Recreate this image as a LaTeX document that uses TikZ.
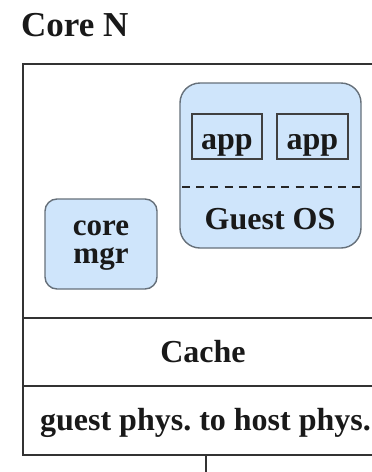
\documentclass[tikz,border=0pt]{standalone}
\usepackage{fontspec}
\setmainfont{Liberation Serif}
\frenchspacing
\definecolor{boxfill}{HTML}{CFE5FB}
\definecolor{boxline}{HTML}{66707A}
\definecolor{frameline}{HTML}{333333}
\begin{document}
\begin{tikzpicture}[x=1pt,y=-1pt,
  lbl/.style={font=\bfseries\fontsize{32}{28}\selectfont, text=black!90, inner sep=0pt},
  frame/.style={draw=frameline, line width=1.8pt},
  guestbox/.style={draw=boxline, fill=boxfill, line width=1.4pt, rounded corners=20pt},
  mgrbox/.style={draw=boxline, fill=boxfill, line width=1.4pt, rounded corners=12pt},
  appbox/.style={draw=black!75, line width=1.3pt}]
\useasboundingbox (0,0) rectangle (372,472);
\clip (0,0) rectangle (372,472);

% title
\node[lbl, anchor=base west, font=\bfseries\fontsize{35}{40}\selectfont] (title) at (21,36) {Core N};

% core frame with its layers
\draw[frame] (400,64) -- (23,64) -- (23,455) -- (400,455);
\draw[frame] (23,318) -- (400,318);
\draw[frame] (23,386) -- (400,386);
\coordinate (outtop) at (206,455);
\coordinate (outbot) at (206,480);
\draw[frame] (outtop) -- (outbot);

% guest OS with two applications
\draw[guestbox] (180,83) rectangle (361,248);
\node[appbox, minimum width=70pt, minimum height=45pt, inner sep=0pt] (app1) at (227,136.5) {};
\node[appbox, minimum width=71pt, minimum height=45pt, inner sep=0pt] (app2) at (312.5,136.5) {};
\node[lbl, anchor=base] at (227,149) {app};
\node[lbl, anchor=base] at (312.5,149) {app};
\draw[black!85, line width=1.8pt, dash pattern=on 8pt off 6.2pt] (182,187) -- (360,187);
\node[lbl, anchor=base] (guestos) at (270,229) {Guest OS};

% core manager
\draw[mgrbox] (45,199) rectangle (157,289);
\node[lbl, font=\bfseries\fontsize{31}{28}\selectfont, align=center, anchor=base] (coremgr) at (101,263) {core\\mgr};

% layers
\node[lbl, anchor=base] (cache) at (203,362) {Cache};
\node[lbl, anchor=base] (g2h) at (205.5,430) {guest phys. to host phys.};
\end{tikzpicture}
\end{document}
